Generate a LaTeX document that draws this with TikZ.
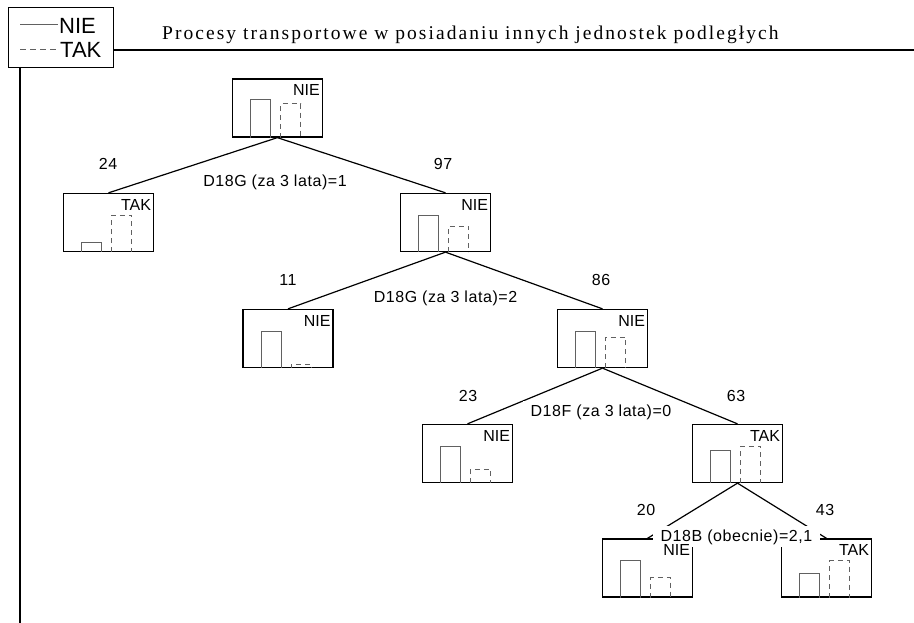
\documentclass[tikz,border=0pt]{standalone}
\usepackage{fontspec}
\setmainfont{Liberation Sans}
\newfontfamily\titlefont[LetterSpace=10.5]{Liberation Serif}
\newfontfamily\lblfont[LetterSpace=3.5]{Liberation Sans}
\usetikzlibrary{calc}
\tikzset{
  tbox/.style={draw=black, line width=1.3pt, minimum width=90pt, minimum height=58pt, inner sep=0pt},
  sbar/.style={draw=black!62, line width=1pt},
  dbar/.style={draw=black!62, line width=1pt, dash pattern=on 5pt off 4pt},
  conn/.style={draw=black, line width=1.2pt},
  elabel/.style={fill=white, inner xsep=8pt, inner ysep=3pt, anchor=base, font=\lblfont\fontsize{16}{18}\selectfont},
  numlbl/.style={inner sep=0pt, anchor=base, font=\lblfont\fontsize{16}{18}\selectfont},
  blabel/.style={inner sep=0pt, anchor=base east, font=\fontsize{16}{18}\selectfont},
  framel/.style={draw=black, line width=1.4pt},
  legl/.style={draw=black!62, line width=1pt},
  legtext/.style={inner sep=0pt, anchor=west, font=\fontsize{22}{24}\selectfont},
}
\newcommand\treebox[5]{%
  \node[tbox] (#1) at (#2,#3) {};
  \draw[sbar] ([xshift=19pt]#1.south west) -- ++(0pt,#4pt) -- ++(20pt,0pt) -- ++(0pt,-#4pt);
  \draw[dbar] ([xshift=49pt]#1.south west) -- ++(0pt,#5pt) -- ++(20pt,0pt) -- ++(0pt,-#5pt);
}
\newcommand\boxtext[2]{%
  \node[blabel] (#1-t) at ([xshift=-3pt,yshift=-17.5pt]#1.north east) {#2};
}
\begin{document}
\begin{tikzpicture}[x=1pt,y=-1pt]
\useasboundingbox[fill=white] (0,0) rectangle (914,623);

% legend and frame
\node[draw=black, line width=1.3pt, minimum width=105pt, minimum height=60pt, inner sep=0pt, anchor=north west] (legend) at (8,7) {};
\coordinate (ls1) at (20,25);
\coordinate (le1) at (58,25);
\coordinate (ls2) at (20,50);
\coordinate (le2) at (58,50);
\draw[legl] (ls1) -- (le1);
\draw[legl, dash pattern=on 6pt off 4pt] (ls2) -- (le2);
\node[legtext] (legnie) at (59,25.5) {NIE};
\node[legtext] (legtak) at (60,50) {TAK};
\coordinate (hr0) at (113,50);
\coordinate (hr1) at (914,50);
\coordinate (vr0) at (20,67);
\coordinate (vr1) at (20,623);
\draw[framel] (hr0) -- (hr1);
\draw[framel] (vr0) -- (vr1);
\node[inner sep=0pt, anchor=base west, font=\titlefont\fontsize{19.5}{22}\selectfont] (title) at (162,40) {Procesy transportowe w posiadaniu innych jednostek podległych};

% boxes
\treebox{root}{277.4}{108}{38}{34}
\treebox{l1}{108.5}{222.5}{10}{37}
\treebox{r1}{445.5}{222.5}{37}{26}
\treebox{l2}{288}{338.5}{37}{4}
\treebox{r2}{602.5}{338.5}{37}{31}
\treebox{l3}{467.5}{453.5}{37}{14}
\treebox{r3}{737.5}{453.5}{33}{37}
\treebox{l4}{647.5}{568}{37}{20}
\treebox{r4}{826.5}{568}{24}{37}

% connectors
\draw[conn] (root.south) -- (l1.north);
\draw[conn] (root.south) -- (r1.north);
\draw[conn] (r1.south) -- (l2.north);
\draw[conn] (r1.south) -- (r2.north);
\draw[conn] (r2.south) -- (l3.north);
\draw[conn] (r2.south) -- (r3.north);
\draw[conn] (r3.south) -- (l4.north);
\draw[conn] (r3.south) -- (r4.north);

% split labels
\node[elabel] (s1) at (275,187) {D18G (za 3 lata)=1};
\node[elabel] (s2) at (445.5,302) {D18G (za 3 lata)=2};
\node[elabel] (s3) at (601,416) {D18F (za 3 lata)=0};
\node[elabel] (s4) at (736.5,541) {D18B (obecnie)=2,1};

% counts
\node[numlbl] (n24) at (108,170) {24};
\node[numlbl] (n97) at (443,170) {97};
\node[numlbl] (n11) at (288,285) {11};
\node[numlbl] (n86) at (601,285) {86};
\node[numlbl] (n23) at (468,401) {23};
\node[numlbl] (n63) at (736,401) {63};
\node[numlbl] (n20) at (646,515) {20};
\node[numlbl] (n43) at (825,515) {43};

% box texts
\boxtext{root}{NIE}
\boxtext{l1}{TAK}
\boxtext{r1}{NIE}
\boxtext{l2}{NIE}
\boxtext{r2}{NIE}
\boxtext{l3}{NIE}
\boxtext{r3}{TAK}
\boxtext{l4}{NIE}
\boxtext{r4}{TAK}
\end{tikzpicture}
\end{document}
